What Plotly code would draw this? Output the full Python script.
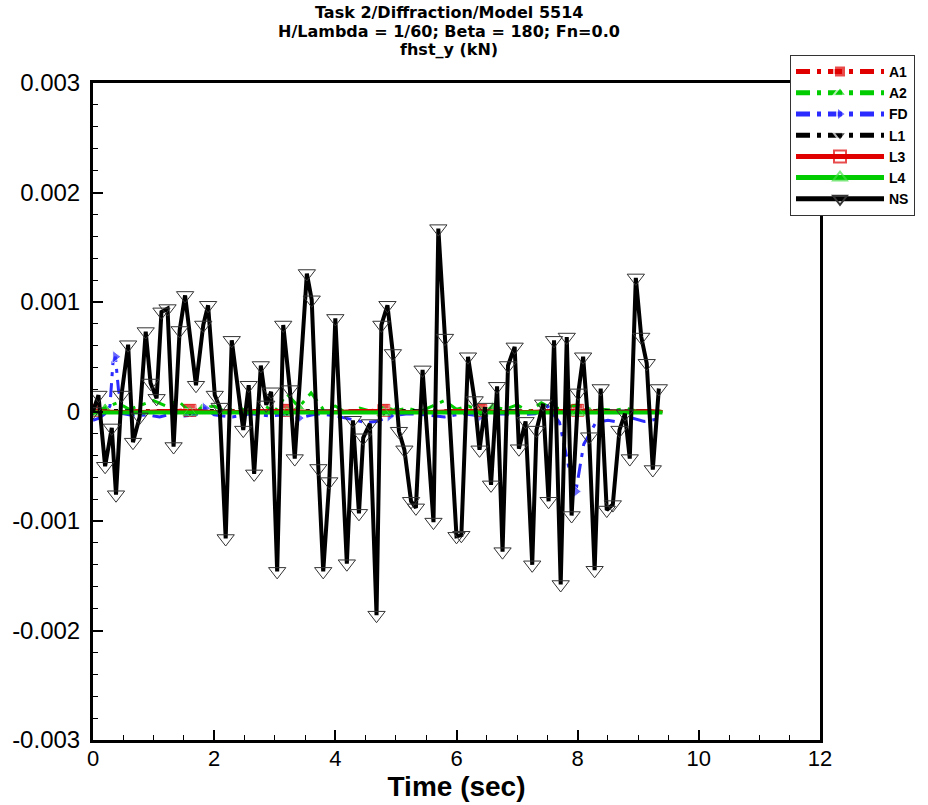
import plotly.graph_objects as go

# ---------------- data ----------------
# NS (black solid, open down-triangles)
NS_T = [0.00, 0.09, 0.20, 0.31, 0.38, 0.47, 0.58, 0.66, 0.77, 0.87, 0.95, 1.05, 1.13, 1.23,
        1.33, 1.43, 1.52, 1.70, 1.82, 1.90, 2.01, 2.09, 2.19, 2.29, 2.48, 2.57, 2.66, 2.77,
        2.86, 2.94, 3.04, 3.14, 3.25, 3.33, 3.53, 3.61, 3.72, 3.80, 3.90, 4.00, 4.19, 4.29,
        4.39, 4.46, 4.57, 4.68, 4.76, 4.86, 4.95, 5.05, 5.14, 5.25, 5.33, 5.44, 5.62, 5.70,
        5.81, 6.00, 6.08, 6.19, 6.30, 6.38, 6.47, 6.57, 6.67, 6.76, 6.85, 6.96, 7.03, 7.14,
        7.25, 7.32, 7.43, 7.52, 7.61, 7.72, 7.82, 7.90, 8.01, 8.09, 8.19, 8.28, 8.38, 8.48,
        8.58, 8.69, 8.78, 8.86, 8.96, 9.05, 9.14, 9.24, 9.34]
NS_Y = [0.0, 0.00015, -0.0005, -0.00015, -0.00076, 0.00015, 0.00061, -0.00028, -0.00005,
        0.00073, 0.00026, 0.00012, 0.00091, 0.00094, -0.00032, 0.00074, 0.00106, 0.00024,
        0.00079, 0.00097, 0.00015, 0.00004, -0.00116, 0.00065, -0.00017, 0.00024, -0.00057,
        0.00042, 0.00006, 0.00018, -0.00146, 0.00079, 0.00020, -0.00043, 0.00126, 0.00102,
        -0.00052, -0.00146, -0.00064, 0.00085, -0.00139, -0.00008, -0.00093, -0.00024,
        -0.00011, -0.00186, 0.00079, 0.00097, 0.00053, -0.00018, -0.00035, -0.00082,
        -0.00088, 0.00038, -0.00101, 0.00167, 0.00067, -0.00114, -0.00113, 0.00050, 0.00010,
        -0.00035, 0.00004, -0.00067, 0.00023, -0.00128, 0.00042, 0.00059, -0.00034, -0.00009,
        -0.00140, -0.00017, 0.00007, -0.00082, 0.00065, -0.00158, 0.00068, -0.00095, 0.00017,
        0.00050, -0.00023, -0.00145, 0.00021, -0.00090, -0.00085, -0.00017, -0.00002,
        -0.00043, 0.00122, 0.00068, 0.00044, -0.00053, 0.00021]

# near-zero series on a common coarse time base
T_Z = [0.0, 0.4, 0.8, 1.2, 1.6, 2.0, 2.4, 2.8, 3.2, 3.6, 4.0, 4.4, 4.8,
       5.2, 5.6, 6.0, 6.4, 6.8, 7.2, 7.6, 8.0, 8.4, 8.8, 9.2, 9.4]
A1_Y = [0.00002, 0.0, 0.00001, 0.0, 0.00002, 0.0, 0.00001, 0.0, 0.00002, 0.0, 0.00001, 0.0,
        0.00002, 0.0, 0.00001, 0.0, 0.00002, 0.0, 0.00001, 0.0, 0.00002, 0.0, 0.00001, 0.0, 0.0]
L1_Y = [0.0, 0.00001, 0.0, 0.00001, 0.0, 0.00001, 0.0, 0.00001, 0.0, 0.00001, 0.0, 0.00001,
        0.0, 0.00001, 0.0, 0.00001, 0.0, 0.00001, 0.0, 0.00001, 0.0, 0.00001, 0.0, 0.00001, 0.0]
L3_Y = [0.00001, 0.0, 0.0, 0.00001, 0.00001, 0.0, 0.0, 0.00001, 0.00001, 0.0, 0.0, 0.00001,
        0.00001, 0.0, 0.0, 0.00001, 0.00001, 0.0, 0.0, 0.00001, 0.00001, 0.0, 0.0, 0.00001, 0.0]
L4_Y = [-0.00001, -0.00001, -0.00001, -0.00001, -0.00001, -0.00001, -0.00001, -0.00001,
        -0.00001, -0.00001, -0.00001, -0.00001, -0.00001, -0.00001, -0.00001, -0.00001,
        -0.00001, -0.00001, -0.00001, -0.00001, -0.00001, -0.00001, -0.00001, -0.00001, -0.00001]

A2_T = [0.0, 0.2, 0.4, 0.6, 0.8, 1.0, 1.2, 1.4, 1.6, 1.8, 2.0, 2.2, 2.4, 2.6, 2.8, 3.0,
        3.2, 3.4, 3.6, 3.8, 4.0, 4.2, 4.4, 4.6, 4.8, 5.0, 5.2, 5.4, 5.6, 5.8, 6.0, 6.2,
        6.4, 6.6, 6.8, 7.0, 7.2, 7.4, 7.6, 7.8, 8.0, 8.2, 8.4, 8.6, 8.8, 9.0, 9.2, 9.4]
A2_Y = [0.0, 0.00003, 0.00008, 0.00002, 0.00006, 0.0001, 0.00005, 0.0001, 0.0, 0.00003,
        0.00005, 0.0, 0.00004, -0.00002, 0.00006, 0.0, 0.00016, 0.00004, 0.00017, 0.00002,
        0.00005, -0.00002, 0.00003, 0.0, 0.00004, 0.00001, 0.00003, 0.0, 0.00005, 0.0001,
        0.00002, 0.00005, 0.0, 0.00004, 0.00002, 0.00006, 0.0, 0.00008, 0.00002, 0.00004,
        0.00006, 0.0, 0.00002, 0.00001, 0.00003, 0.0, 0.00001, 0.0]

FD_T = [0.0, 0.1, 0.2, 0.28, 0.33, 0.37, 0.42, 0.5, 0.7, 0.9, 1.1, 1.3, 1.5, 1.7, 1.85,
        2.0, 2.3, 2.6, 2.9, 3.2, 3.4, 3.7, 4.0, 4.3, 4.5, 4.7, 4.9, 5.2, 5.5, 5.8, 6.1,
        6.4, 6.7, 7.0, 7.3, 7.5, 7.7, 7.85, 7.97, 8.1, 8.3, 8.5, 8.7, 8.9, 9.1, 9.3, 9.4]
FD_Y = [-0.00008, -0.00006, -0.00002, 0.00005, 0.00045, 0.0005, 0.0002, -0.00002, -0.00004,
        -0.00003, -0.00005, -0.00002, -0.00004, -0.00003, 0.00003, -0.00003, -0.00005,
        -0.00002, -0.00004, -0.00003, -0.00006, -0.00002, -0.00004, -0.00008, -0.0001,
        -0.00009, -0.00004, -0.00002, -0.00003, -0.00005, -0.00002, -0.00004, -0.00002,
        -0.00003, -0.00002, 0.00005, -0.0001, -0.0005, -0.00073, -0.0003, -0.0001,
        -0.00008, -0.0001, -0.00006, -0.00009, -0.00007, -0.00008]

Y_TICKS = [0.003, 0.002, 0.001, 0.0, -0.001, -0.002, -0.003]
Y_TICK_TEXT = ["0.003", "0.002", "0.001", "0", "-0.001", "-0.002", "-0.003"]
X_TICKS = [0, 2, 4, 6, 8, 10, 12]

TITLE_LINES = ["Task 2/Diffraction/Model 5514",
               "H/Lambda = 1/60; Beta = 180; Fn=0.0",
               "fhst_y (kN)"]

# ---------------- styling / layout ----------------
RED = "#e00000"
GREEN = "#00cc00"
BLUE = "#2b2bff"
BLACK = "#000000"
DASHDOT = "14px,7px,4px,7px"
FONT = "Liberation Sans, Arial, sans-serif"
TITLE_FONT = "DejaVu Sans, Liberation Sans, Arial, sans-serif"
NARROW = "Liberation Sans Narrow, Liberation Sans, Arial, sans-serif"

FIG_W, FIG_H = 928, 805
PL, PR, PT, PB = 93, 820, 83, 740   # plot box in page px
PW, PH = PR - PL, PB - PT


def px_x(page_x):
    return (page_x - PL) / PW


def px_y(page_y):
    return (PB - page_y) / PH


def sizes(n, idx, s):
    return [s if i in idx else 0 for i in range(n)]


fig = go.Figure()

z_marks = {0, 4, 8, 12, 16, 20}
fig.add_trace(go.Scatter(x=T_Z, y=A1_Y, name="A1", mode="lines+markers",
                         line=dict(color=RED, width=3, dash=DASHDOT),
                         marker=dict(symbol="square", color=RED, size=sizes(len(T_Z), z_marks, 11))))
fig.add_trace(go.Scatter(x=A2_T, y=A2_Y, name="A2", mode="lines+markers",
                         line=dict(color=GREEN, width=3, dash=DASHDOT),
                         marker=dict(symbol="triangle-up", color=GREEN,
                                     size=sizes(len(A2_T), {1, 9, 17, 25, 33, 41}, 11))))
fig.add_trace(go.Scatter(x=FD_T, y=FD_Y, name="FD", mode="lines+markers",
                         line=dict(color=BLUE, width=3, dash=DASHDOT),
                         marker=dict(symbol="triangle-right", color=BLUE,
                                     size=sizes(len(FD_T), {5, 14, 20, 26, 31, 38}, 11))))
fig.add_trace(go.Scatter(x=T_Z, y=L1_Y, name="L1", mode="lines+markers",
                         line=dict(color=BLACK, width=3, dash=DASHDOT),
                         marker=dict(symbol="triangle-down", color=BLACK,
                                     size=sizes(len(T_Z), z_marks, 11))))
fig.add_trace(go.Scatter(x=T_Z, y=L3_Y, name="L3", mode="lines+markers",
                         line=dict(color=RED, width=3),
                         marker=dict(symbol="square-open", color=RED, line=dict(width=1),
                                     size=sizes(len(T_Z), z_marks, 12))))
fig.add_trace(go.Scatter(x=T_Z, y=L4_Y, name="L4", mode="lines+markers",
                         line=dict(color=GREEN, width=4),
                         marker=dict(symbol="triangle-up-open", color="#44dd44", line=dict(width=1),
                                     size=sizes(len(T_Z), z_marks, 12))))
fig.add_trace(go.Scatter(x=NS_T, y=NS_Y, name="NS", mode="lines+markers",
                         line=dict(color=BLACK, width=4),
                         marker=dict(symbol="triangle-down-open", color="#333333",
                                     line=dict(width=1), size=15)))

axis_common = dict(showgrid=False, zeroline=False, showline=True, linecolor=BLACK,
                   linewidth=3, mirror=True, ticks="inside", ticklen=10, tickwidth=2,
                   tickcolor=BLACK)

fig.update_xaxes(range=[0, 12], tickvals=X_TICKS, **axis_common,
                 minor=dict(dtick=0.5, ticks="inside", ticklen=5, tickwidth=1, tickcolor=BLACK),
                 tickfont=dict(family=NARROW, size=22, color=BLACK), ticklabelstandoff=-3,
                 title=dict(text="<b>Time (sec)</b>", font=dict(family=NARROW, size=28, color=BLACK),
                            standoff=6))
fig.update_yaxes(range=[-0.003, 0.003], tickvals=Y_TICKS, ticktext=Y_TICK_TEXT, **axis_common,
                 minor=dict(dtick=0.0002, ticks="inside", ticklen=5, tickwidth=1, tickcolor=BLACK),
                 tickfont=dict(family=FONT, size=24, color=BLACK), ticklabelstandoff=5)

title_y = [12, 31, 50]
annotations = [dict(text="<b>%s</b>" % t, x=px_x(449), y=px_y(yy), xref="paper",
                    yref="paper", showarrow=False, xanchor="center", yanchor="middle",
                    font=dict(family=TITLE_FONT, size=16, color=BLACK))
               for t, yy in zip(TITLE_LINES, title_y)]

fig.update_layout(
    width=FIG_W, height=FIG_H,
    paper_bgcolor="white", plot_bgcolor="white",
    margin=dict(l=PL, r=FIG_W - PR, t=PT, b=FIG_H - PB, autoexpand=False),
    showlegend=True,
    legend=dict(x=px_x(790), y=px_y(55), xanchor="left", yanchor="top",
                bgcolor="white", bordercolor="#333333", borderwidth=1,
                font=dict(family=FONT, size=14, color=BLACK, weight="bold"),
                itemwidth=88, itemsizing="constant", tracegroupgap=0),
    annotations=annotations,
)

fig.write_html("out.html", config={"displayModeBar": False},
               post_script="document.body.style.margin='0px';document.body.style.overflow='hidden';")
